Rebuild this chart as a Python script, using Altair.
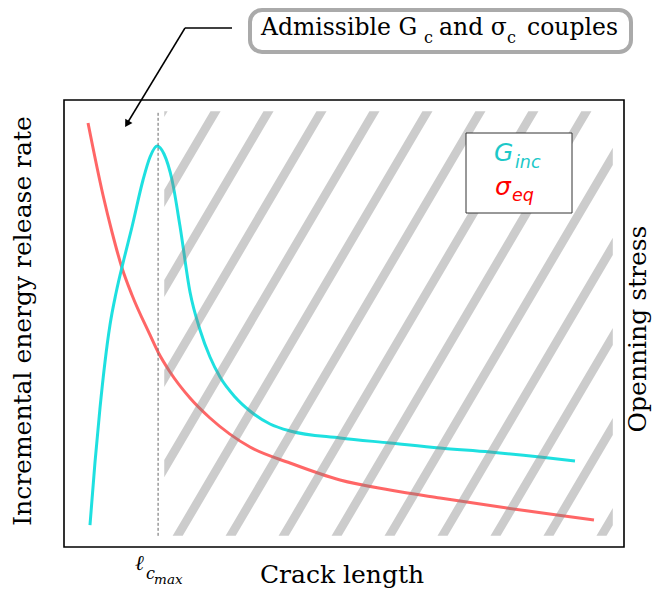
import altair as alt
import pandas as pd
import numpy as np

# ---------------- data (arbitrary units) ----------------
red_x = [0.429, 0.696, 0.857, 1.036, 1.214, 1.536, 1.679, 1.893, 2.250, 2.607, 3.321,
         4.036, 4.929, 5.821, 6.714, 7.911, 8.804, 9.464]
red_y = [9.485, 7.875, 7.047, 6.242, 5.638, 4.743, 4.362, 3.915, 3.333, 2.886, 2.237,
         1.879, 1.499, 1.275, 1.096, 0.872, 0.716, 0.604]

cyan_x = [0.464, 0.554, 0.643, 0.732, 0.821, 0.929, 1.071, 1.214, 1.411, 1.536, 1.661,
          1.786, 1.929, 2.071, 2.250, 2.429, 2.607, 2.786, 3.054, 3.321, 3.679, 4.036,
          4.929, 5.821, 6.714, 7.607, 8.500, 9.125]
cyan_y = [0.492, 1.902, 3.110, 4.139, 4.966, 5.682, 6.443, 7.159, 8.210, 8.725, 8.971,
          8.792, 8.210, 7.181, 5.705, 4.855, 4.251, 3.803, 3.356, 3.043, 2.752, 2.595,
          2.438, 2.327, 2.215, 2.125, 2.013, 1.924]

l_cmax = 1.68                 # position of the G_inc maximum
region_x = [1.79, 9.80]       # admissible (hatched) region
region_y = [0.25, 9.75]
stripe_slope = 2.13
stripe_spacing = 0.946
stripe_half = 0.09
stripe_anchor = 2.03

W, H = 560, 447
xs = alt.Scale(domain=[0, 10], nice=False, zero=False)
ys = alt.Scale(domain=[0, 10], nice=False, zero=False)

red_df = pd.DataFrame({"x": red_x, "y": red_y})
cyan_df = pd.DataFrame({"x": cyan_x, "y": cyan_y})

# ---------------- hatch stripes as clipped parallelograms (ranged areas) ----------------
X0, X1 = region_x
Y0, Y1 = region_y
s, h = stripe_slope, stripe_half
rows = []
span = (Y1 - Y0) / s
k_lo = int(np.floor((X0 - span - h - stripe_anchor) / stripe_spacing)) - 1
k_hi = int(np.ceil((X1 + h - stripe_anchor) / stripe_spacing)) + 1
for k in range(k_lo, k_hi + 1):
    c = stripe_anchor + k * stripe_spacing
    cands = {X0, X1}
    for yb in (Y0, Y1):
        for xx in (c + h + (yb - Y0) / s, c - h + (yb - Y0) / s):
            if X0 < xx < X1:
                cands.add(xx)
    pts = []
    for xx in sorted(cands):
        lo = min(max(Y0 + s * (xx - c - h), Y0), Y1)
        hi = min(max(Y0 + s * (xx - c + h), Y0), Y1)
        pts.append((xx, lo, hi))
    if any(p[2] - p[1] > 1e-9 for p in pts):
        for (xx, lo, hi) in pts:
            rows.append({"k": k, "x": xx, "lo": lo, "hi": hi})
stripes_df = pd.DataFrame(rows)

one = pd.DataFrame({"a": [0]})

red_line = alt.Chart(red_df).mark_line(
    color="red", opacity=0.6, strokeWidth=3, interpolate="monotone"
).encode(x=alt.X("x:Q", scale=xs, axis=None), y=alt.Y("y:Q", scale=ys, axis=None))

cyan_line = alt.Chart(cyan_df).mark_line(
    color="#12dede", opacity=0.95, strokeWidth=3, interpolate="monotone"
).encode(x=alt.X("x:Q", scale=xs, axis=None), y=alt.Y("y:Q", scale=ys, axis=None))

stripes = alt.Chart(stripes_df).mark_area(color="#7f7f7f", opacity=0.4).encode(
    x=alt.X("x:Q", scale=xs, axis=None),
    y=alt.Y("lo:Q", scale=ys, axis=None),
    y2="hi:Q",
    detail="k:N",
)

dash_df = pd.DataFrame({"x": [l_cmax], "y": [region_y[0]], "y2": [region_y[1]]})
dash = alt.Chart(dash_df).mark_rule(color="#666666", strokeDash=[3, 2], strokeWidth=1).encode(
    x=alt.X("x:Q", scale=xs, axis=None), y=alt.Y("y:Q", scale=ys, axis=None), y2="y2:Q"
)

# legend box
leg_box = alt.Chart(one).mark_rect(fill="white", stroke="#333333", strokeWidth=1).encode(
    x=alt.value(402), x2=alt.value(508), y=alt.value(33), y2=alt.value(113)
)

def txt(text, x, y, size, color="black", font="DejaVu Serif", style="normal",
        angle=0, align="left", baseline="alphabetic"):
    return alt.Chart(one).mark_text(
        text=text, font=font, fontSize=size, fontStyle=style, color=color,
        angle=angle, align=align, baseline=baseline
    ).encode(x=alt.value(x), y=alt.value(y))

legend_texts = [
    txt("G", 430, 61, 25, "#1cc8c8", "DejaVu Sans", "italic"),
    txt("inc", 451, 68, 17.5, "#1cc8c8", "DejaVu Sans", "italic"),
    txt("σ", 431, 95, 25, "red", "DejaVu Sans", "italic"),
    txt("eq", 448, 101, 17.5, "red", "DejaVu Sans", "italic"),
]

titles = [
    txt("Incremental energy release rate", -33, 221, 25, angle=270, align="center"),
    txt("Openning stress", 582, 229, 25, angle=270, align="center"),
    txt("Crack length", 278, 483, 25, align="center"),
]

# l_{c_max} tick label
lab_df = pd.DataFrame({"x": [l_cmax]})
def lab(text, dx, y, size):
    return alt.Chart(lab_df).mark_text(
        text=text, font="DejaVu Serif", fontStyle="italic", fontSize=size,
        align="left", baseline="alphabetic", dx=dx
    ).encode(x=alt.X("x:Q", scale=xs, axis=None), y=alt.value(y))

lab_parts = [lab("ℓ", -23, 470, 21), lab("c", -12, 479, 16), lab("max", -4, 484, 13.5)]

# annotation box + arrow
ann_box = alt.Chart(one).mark_rect(
    fill="white", stroke="#aaaaaa", strokeWidth=4, cornerRadius=12
).encode(x=alt.value(186), x2=alt.value(567), y=alt.value(-90), y2=alt.value(-48))

ann_texts = [
    txt("Admissible G", 197, -65, 23.5),
    txt("c", 360, -57, 16),
    txt("and σ", 375, -65, 23.5),
    txt("c", 443, -57, 16),
    txt("couples", 463, -65, 23.5),
]

arrow_h = alt.Chart(one).mark_rule(color="black", strokeWidth=1.5).encode(
    x=alt.value(168), x2=alt.value(121), y=alt.value(-72), y2=alt.value(-72)
)
arrow_d = alt.Chart(one).mark_rule(color="black", strokeWidth=1.5).encode(
    x=alt.value(121), x2=alt.value(64), y=alt.value(-72), y2=alt.value(22)
)
arrow_head = alt.Chart(one).mark_point(
    shape="triangle-up", filled=True, color="black", size=70, angle=211, opacity=1
).encode(x=alt.value(63), y=alt.value(24))

chart = alt.layer(
    red_line, cyan_line, stripes, dash, leg_box, *legend_texts, *titles, *lab_parts,
    ann_box, *ann_texts, arrow_h, arrow_d, arrow_head
).properties(
    width=W, height=H,
    autosize=alt.AutoSizeParams(type="none"),
    padding={"left": 56, "top": 92, "right": 28, "bottom": 42},
).configure_view(stroke="black", strokeWidth=1.6)

chart.save("out.html", embed_options={"renderer": "svg", "actions": False})
